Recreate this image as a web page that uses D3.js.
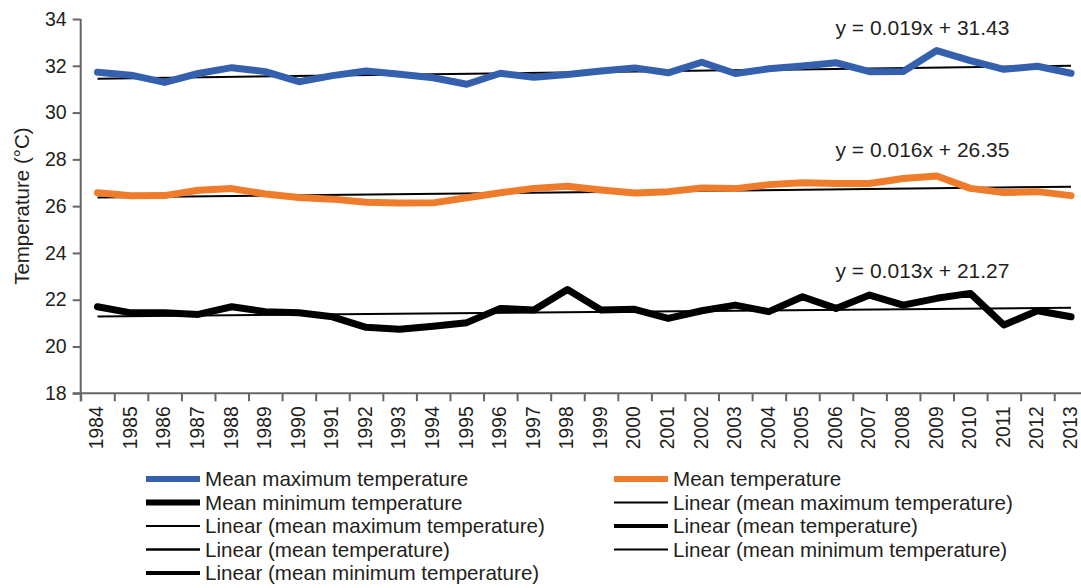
<!DOCTYPE html>
<html>
<head>
<meta charset="utf-8">
<script src="https://cdn.jsdelivr.net/npm/d3@7/dist/d3.min.js"></script>
<style>
  html, body { margin: 0; padding: 0; background: #fff; }
  svg { display: block; }
  text { font-family: "Liberation Sans", Arial, sans-serif; fill: #231f20; }
</style>
</head>
<body>
<svg id="chart" width="1081" height="588"></svg>
<script>
// ---- data ----
const years = d3.range(1984, 2014).map(String);
const meanMax = [31.72, 31.60, 31.29, 31.67, 31.92, 31.75, 31.32, 31.58, 31.78, 31.64, 31.49,
                 31.21, 31.68, 31.51, 31.63, 31.78, 31.91, 31.70, 32.15, 31.67, 31.87,
                 31.99, 32.13, 31.75, 31.76, 32.65, 32.22, 31.85, 31.98, 31.68];
const meanTemp = [26.57, 26.44, 26.45, 26.68, 26.75, 26.52, 26.37, 26.30, 26.17, 26.13, 26.14,
                  26.36, 26.57, 26.76, 26.85, 26.69, 26.56, 26.62, 26.78, 26.75, 26.92,
                  27.00, 26.97, 26.97, 27.18, 27.29, 26.76, 26.58, 26.62, 26.45];
const meanMin = [21.70, 21.44, 21.44, 21.37, 21.70, 21.49, 21.44, 21.27, 20.82, 20.74, 20.87,
                 21.02, 21.63, 21.56, 22.44, 21.56, 21.59, 21.20, 21.53, 21.77, 21.49,
                 22.13, 21.63, 22.20, 21.77, 22.06, 22.27, 20.92, 21.53, 21.27];
const trendSlope = [0.019, 0.016, 0.013];
const trendIntercept = [31.43, 26.35, 21.27];
const trendLabels = ["y = 0.019x + 31.43", "y = 0.016x + 26.35", "y = 0.013x + 21.27"];
const yTicks = [18, 20, 22, 24, 26, 28, 30, 32, 34];
const legendLeft = ["Mean maximum temperature", "Mean minimum temperature",
  "Linear (mean maximum temperature)", "Linear (mean temperature)", "Linear (mean minimum temperature)"];
const legendRight = ["Mean temperature", "Linear (mean maximum temperature)",
  "Linear (mean temperature)", "Linear (mean minimum temperature)"];

// ---- layout ----
const svg = d3.select("#chart");
const pLeft = 80.7, pRight = 1087.8, pTop = 19, pBottom = 393.3;
const axisColor = "#666";
const blue = "#3560ae", orange = "#ef7c2b", black = "#000";

const x = d3.scaleBand().domain(years).range([pLeft, pRight]).padding(0);
const xb = d3.scaleLinear().domain([0, years.length]).range([pLeft, pRight]);
const y = d3.scaleLinear().domain([18, 34]).range([pBottom, pTop]);

// y axis
const ya = svg.append("g").attr("transform", `translate(${pLeft},0)`)
  .call(d3.axisLeft(y).tickValues(yTicks).tickSize(8).tickPadding(6).tickFormat(d3.format("d")));
ya.select(".domain").attr("stroke", axisColor).attr("stroke-width", 2).attr("d", `M0,${pTop}V${pBottom + 8}`);
ya.selectAll(".tick line").attr("stroke", axisColor).attr("stroke-width", 2);
ya.selectAll(".tick text").attr("font-size", 19.5).attr("font-family", "Liberation Sans, Arial, sans-serif").attr("fill", "#231f20");

// x axis (ticks between categories)
const xa = svg.append("g").attr("transform", `translate(0,${pBottom})`)
  .call(d3.axisBottom(xb).tickValues(d3.range(0, years.length + 1)).tickSize(8).tickFormat(""));
xa.select(".domain").attr("stroke", axisColor).attr("stroke-width", 2).attr("d", `M${pLeft - 8},0H${pRight}`);
xa.selectAll(".tick line").attr("stroke", axisColor).attr("stroke-width", 2);

// x labels rotated
svg.append("g").selectAll("text").data(years).join("text")
  .attr("transform", d => `translate(${x(d) + x.bandwidth() / 2 - 1},${pBottom + 13}) rotate(-90)`)
  .attr("text-anchor", "end").attr("dy", "0.35em").attr("font-size", 19.3)
  .text(d => d);

// y title
svg.append("text")
  .attr("transform", `translate(29,${(pTop + pBottom) / 2}) rotate(-90)`)
  .attr("text-anchor", "middle").attr("font-size", 20.5)
  .text("Temperature (°C)");

// trend lines
const seriesList = [meanMax, meanTemp, meanMin];
const cx = (i) => x(years[i]) + x.bandwidth() / 2;
seriesList.forEach((s, k) => {
  const pts = [0, years.length - 1].map(i => [cx(i), y(trendIntercept[k] + trendSlope[k] * (i + 1))]);
  svg.append("path").attr("d", d3.line()(pts)).attr("fill", "none")
    .attr("stroke", "#000").attr("stroke-width", 2);
});

// data lines
const line = d3.line().x((d, i) => cx(i)).y(d => y(d)).curve(d3.curveLinear);
[[meanMax, blue], [meanTemp, orange], [meanMin, black]].forEach(([s, c]) => {
  svg.append("path").datum(s).attr("d", line).attr("fill", "none")
    .attr("stroke", c).attr("stroke-width", 7)
    .attr("stroke-linejoin", "round").attr("stroke-linecap", "round");
});

// equations
const eqBase = [35, 157, 278];
trendLabels.forEach((t, k) => {
  svg.append("text").attr("x", 835.5).attr("y", eqBase[k]).attr("font-size", 21).text(t);
});

// legend
const rowY = [479, 502.5, 526, 549.5, 573];
const leftStyle = [[blue, 6], [black, 6], [black, 2], [black, 2.5], [black, 4]];
const rightStyle = [[orange, 6], [black, 2], [black, 4], [black, 2]];
function legendCol(items, styles, lx0, lx1, tx) {
  const g = svg.append("g");
  items.forEach((t, i) => {
    g.append("line").attr("x1", lx0).attr("x2", lx1).attr("y1", rowY[i]).attr("y2", rowY[i])
      .attr("stroke", styles[i][0]).attr("stroke-width", styles[i][1]);
    g.append("text").attr("x", tx).attr("y", rowY[i]).attr("dy", "0.35em")
      .attr("font-size", 20.6).text(t);
  });
}
legendCol(legendLeft, leftStyle, 146, 200, 205);
legendCol(legendRight, rightStyle, 614, 668, 673);
</script>
</body>
</html>
